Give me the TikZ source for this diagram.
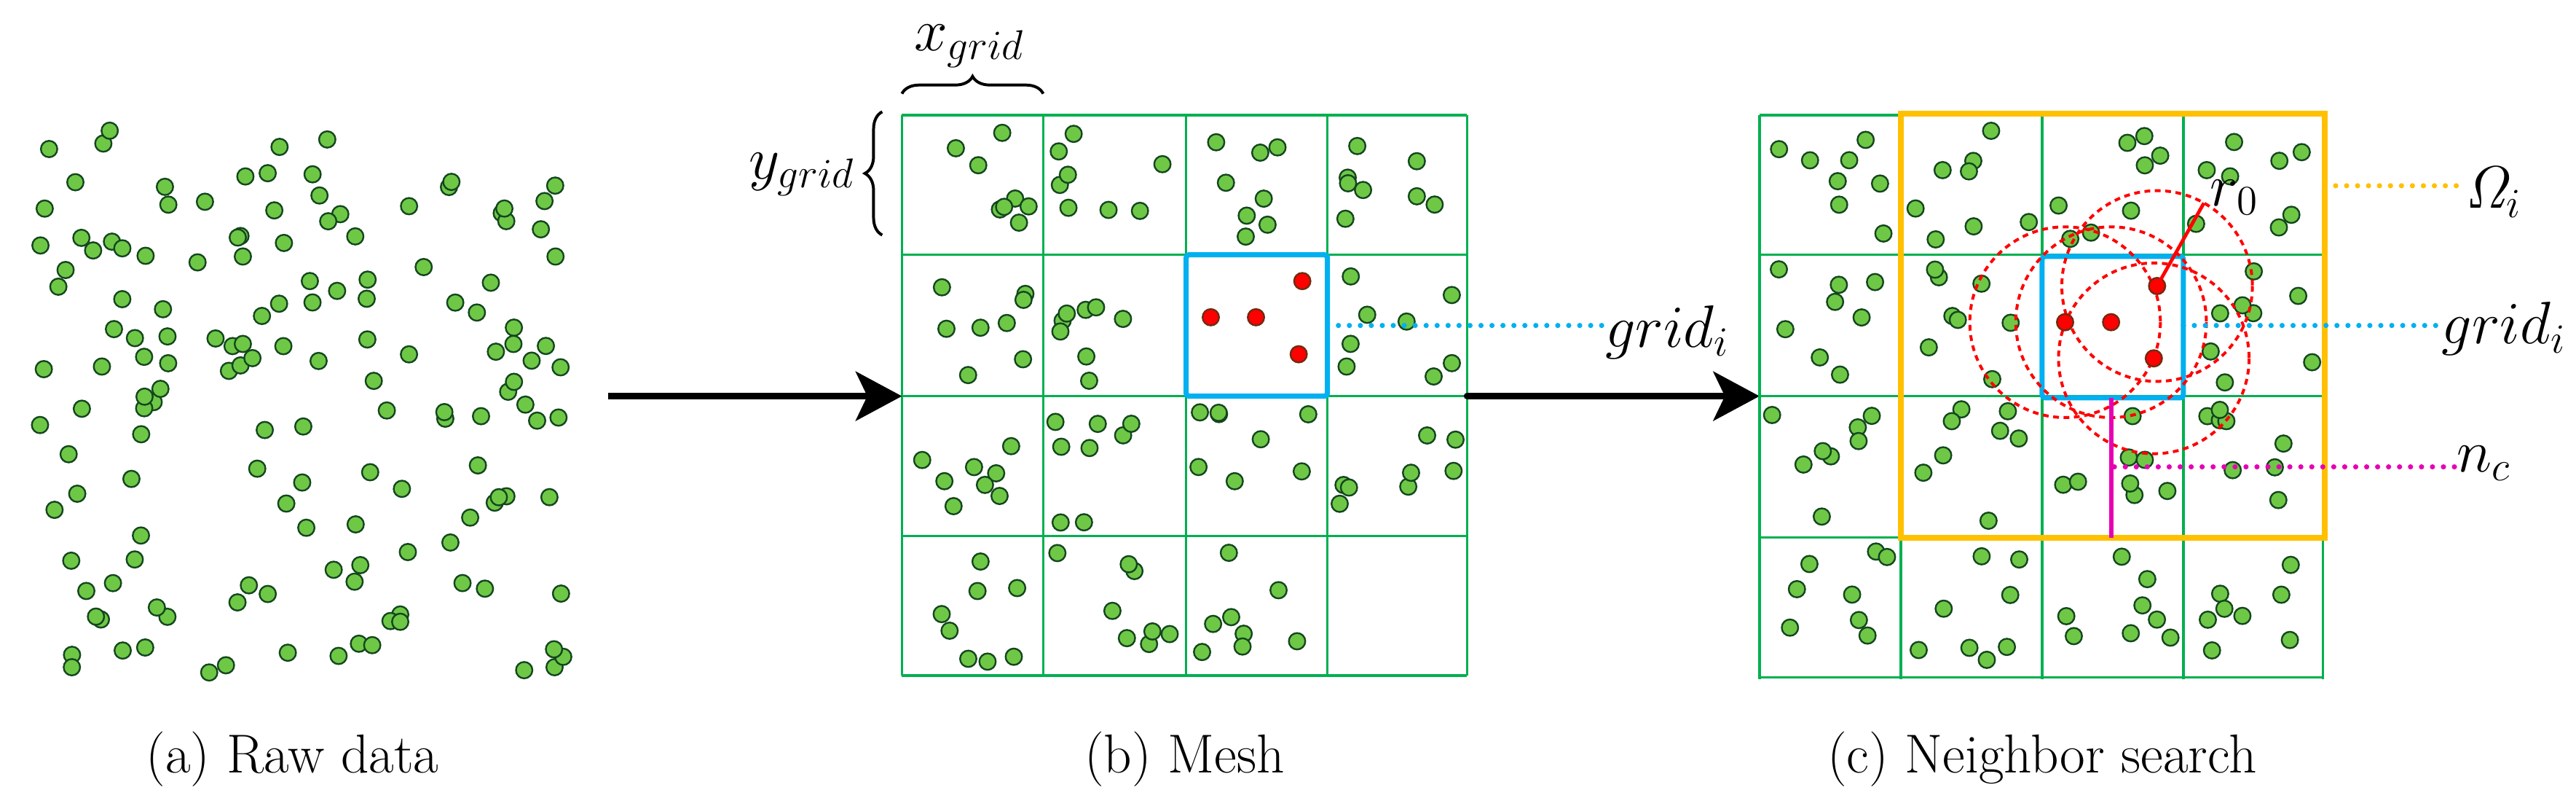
\documentclass[tikz,border=0pt]{standalone}
\usepackage{amsmath}
\usetikzlibrary{arrows.meta,decorations.pathreplacing}
\definecolor{gridgreen}{RGB}{0,176,80}
\definecolor{dotgreen}{RGB}{110,200,70}
\definecolor{dotedge}{RGB}{20,70,30}
\definecolor{boxblue}{RGB}{0,176,240}
\definecolor{omegaorange}{RGB}{255,192,0}
\definecolor{ncmagenta}{RGB}{230,0,180}
\tikzset{
  dot/.style={fill=dotgreen,draw=dotedge,line width=0.6pt},
  rdot/.style={fill=red,draw=dotedge!60!red,line width=0.6pt},
  gridl/.style={draw=gridgreen,line width=0.9pt},
  bigarrow/.style={line width=2.3pt,-{Stealth[length=16pt,width=17pt,inset=4pt]}},
  leader/.style={line width=1.8pt,line cap=round,dash pattern=on 0pt off 3.8pt},
  rcirc/.style={draw=red,line width=1pt,dash pattern=on 2pt off 1.6pt},
  lab/.style={font=\fontsize{22}{24}\selectfont,inner sep=1pt},
  caption/.style={font=\fontsize{19}{22}\selectfont}
}
\newcommand\dotcell[5]{%
  \foreach \k in {1,...,#5}{%
    \pgfmathsetmacro\px{#1+7+rnd*(#3-14)}%
    \pgfmathsetmacro\py{#2+7+rnd*(#4-14)}%
    \filldraw[dot] (\px,\py) circle (5);}}
\begin{document}
\begin{tikzpicture}[x=0.02cm,y=-0.02cm]
\useasboundingbox (0,0) rectangle (1568,489.9);
\pgfmathsetseed{42}
% (a) raw data
\dotcell{15}{72}{335}{345}{150}
\node[caption] (capa) at (178,462) {(a) Raw data};

% (b) mesh
\foreach \x in {549,635,722,808,893} \draw[gridl] (\x,70) -- (\x,411);
\foreach \y in {70,155,241,326,411} \draw[gridl] (549,\y) -- (893,\y);
\foreach \cx/\cy in {549/70,635/70,722/70,808/70,549/155,635/155,808/155,
                     549/241,635/241,722/241,808/241,549/326,635/326,722/326}
  {\dotcell{\cx}{\cy}{86}{85}{8}}
\draw[boxblue,line width=1.8pt,rounded corners=1pt] (722,155) rectangle (808,241);
\coordinate (bblue) at (808,198);
\node[lab,anchor=west] (gridb) at (975,202) {$grid_i$};
\draw[leader,boxblue] (bblue) -- (bblue -| gridb.west);
\filldraw[rdot] (792.7,171) circle (5) (737,193) circle (5)
  (764.5,193) circle (5) (790.5,215.5) circle (5);
\coordinate (xb1) at (549,57); \coordinate (xb2) at (635,57);
\draw[line width=1pt,decorate,decoration={brace,amplitude=6}] (xb1) -- (xb2);
\node[font=\fontsize{22}{24}\selectfont] (xg) at (590,28) {$x_{grid}$};
\coordinate (yb1) at (537,143); \coordinate (yb2) at (537,68);
\draw[line width=1pt,decorate,decoration={brace,amplitude=6}] (yb1) -- (yb2);
\node[font=\fontsize{22}{24}\selectfont] (yg) at (488,106) {$y_{grid}$};
\node[caption] (capb) at (721,462) {(b) Mesh};

% arrows
\coordinate (a1s) at (370,241); \coordinate (a1e) at (549,241);
\draw[bigarrow] (a1s) -- (a1e);
\coordinate (a2s) at (893,241); \coordinate (a2e) at (1071,241);
\draw[bigarrow,line cap=round] (a2s) -- (a2e);

% (c) neighbor search
\foreach \x in {1071,1157,1243,1329,1414} \draw[gridl] (\x,70) -- (\x,413);
\foreach \y in {70,155,241,327,412} \draw[gridl] (1071,\y) -- (1414,\y);
\foreach \cx/\cy in {1071/70,1157/70,1243/70,1329/70,1071/155,1157/155,1329/155,
                     1071/241,1157/241,1243/241,1329/241,1071/327,1157/327,1243/327,1329/327}
  {\dotcell{\cx}{\cy}{86}{85}{8}}
\draw[omegaorange,line width=2pt] (1157,69) rectangle (1415,327);
\draw[boxblue,line width=1.8pt,rounded corners=1pt] (1243,156) rectangle (1329,242);
\coordinate (r1) at (1313,174); \coordinate (r2) at (1257,196);
\coordinate (r3) at (1285,196); \coordinate (r4) at (1311,218);
\foreach \p in {r1,r2,r3,r4} \draw[rcirc] (\p) circle (58);
\filldraw[rdot] (r1) circle (5) (r2) circle (5) (r3) circle (5) (r4) circle (5);
\coordinate (r0e) at (1341.5,123.5);
\draw[red,line width=1.2pt] (r1) -- (r0e);
\node[lab,anchor=west,inner sep=0pt] (r0) at (1345,120) {$r_0$};
% Omega_i
\coordinate (om) at (1415,113);
\node[lab,anchor=west,inner sep=0pt] (omega) at (1500,117) {$\mathit{\Omega}_i$};
\draw[leader,omegaorange] (om) -- (om -| omega.west);
% grid_i
\coordinate (cb) at (1329,198);
\node[lab,anchor=west,inner sep=0pt] (gridc) at (1486,200) {$grid_i$};
\draw[leader,boxblue] (cb) -- (cb -| gridc.west);
% n_c
\coordinate (nt) at (1285,242); \coordinate (nb) at (1285,327);
\draw[ncmagenta,line width=1.5pt] (nt) -- (nb);
\coordinate (nm) at (1287,284);
\node[lab,anchor=west,inner sep=0pt] (nc) at (1495,282) {$n_c$};
\draw[leader,ncmagenta] (nm) -- (nm -| nc.west);
\node[caption] (capc) at (1243,462) {(c) Neighbor search};
\end{tikzpicture}
\end{document}
